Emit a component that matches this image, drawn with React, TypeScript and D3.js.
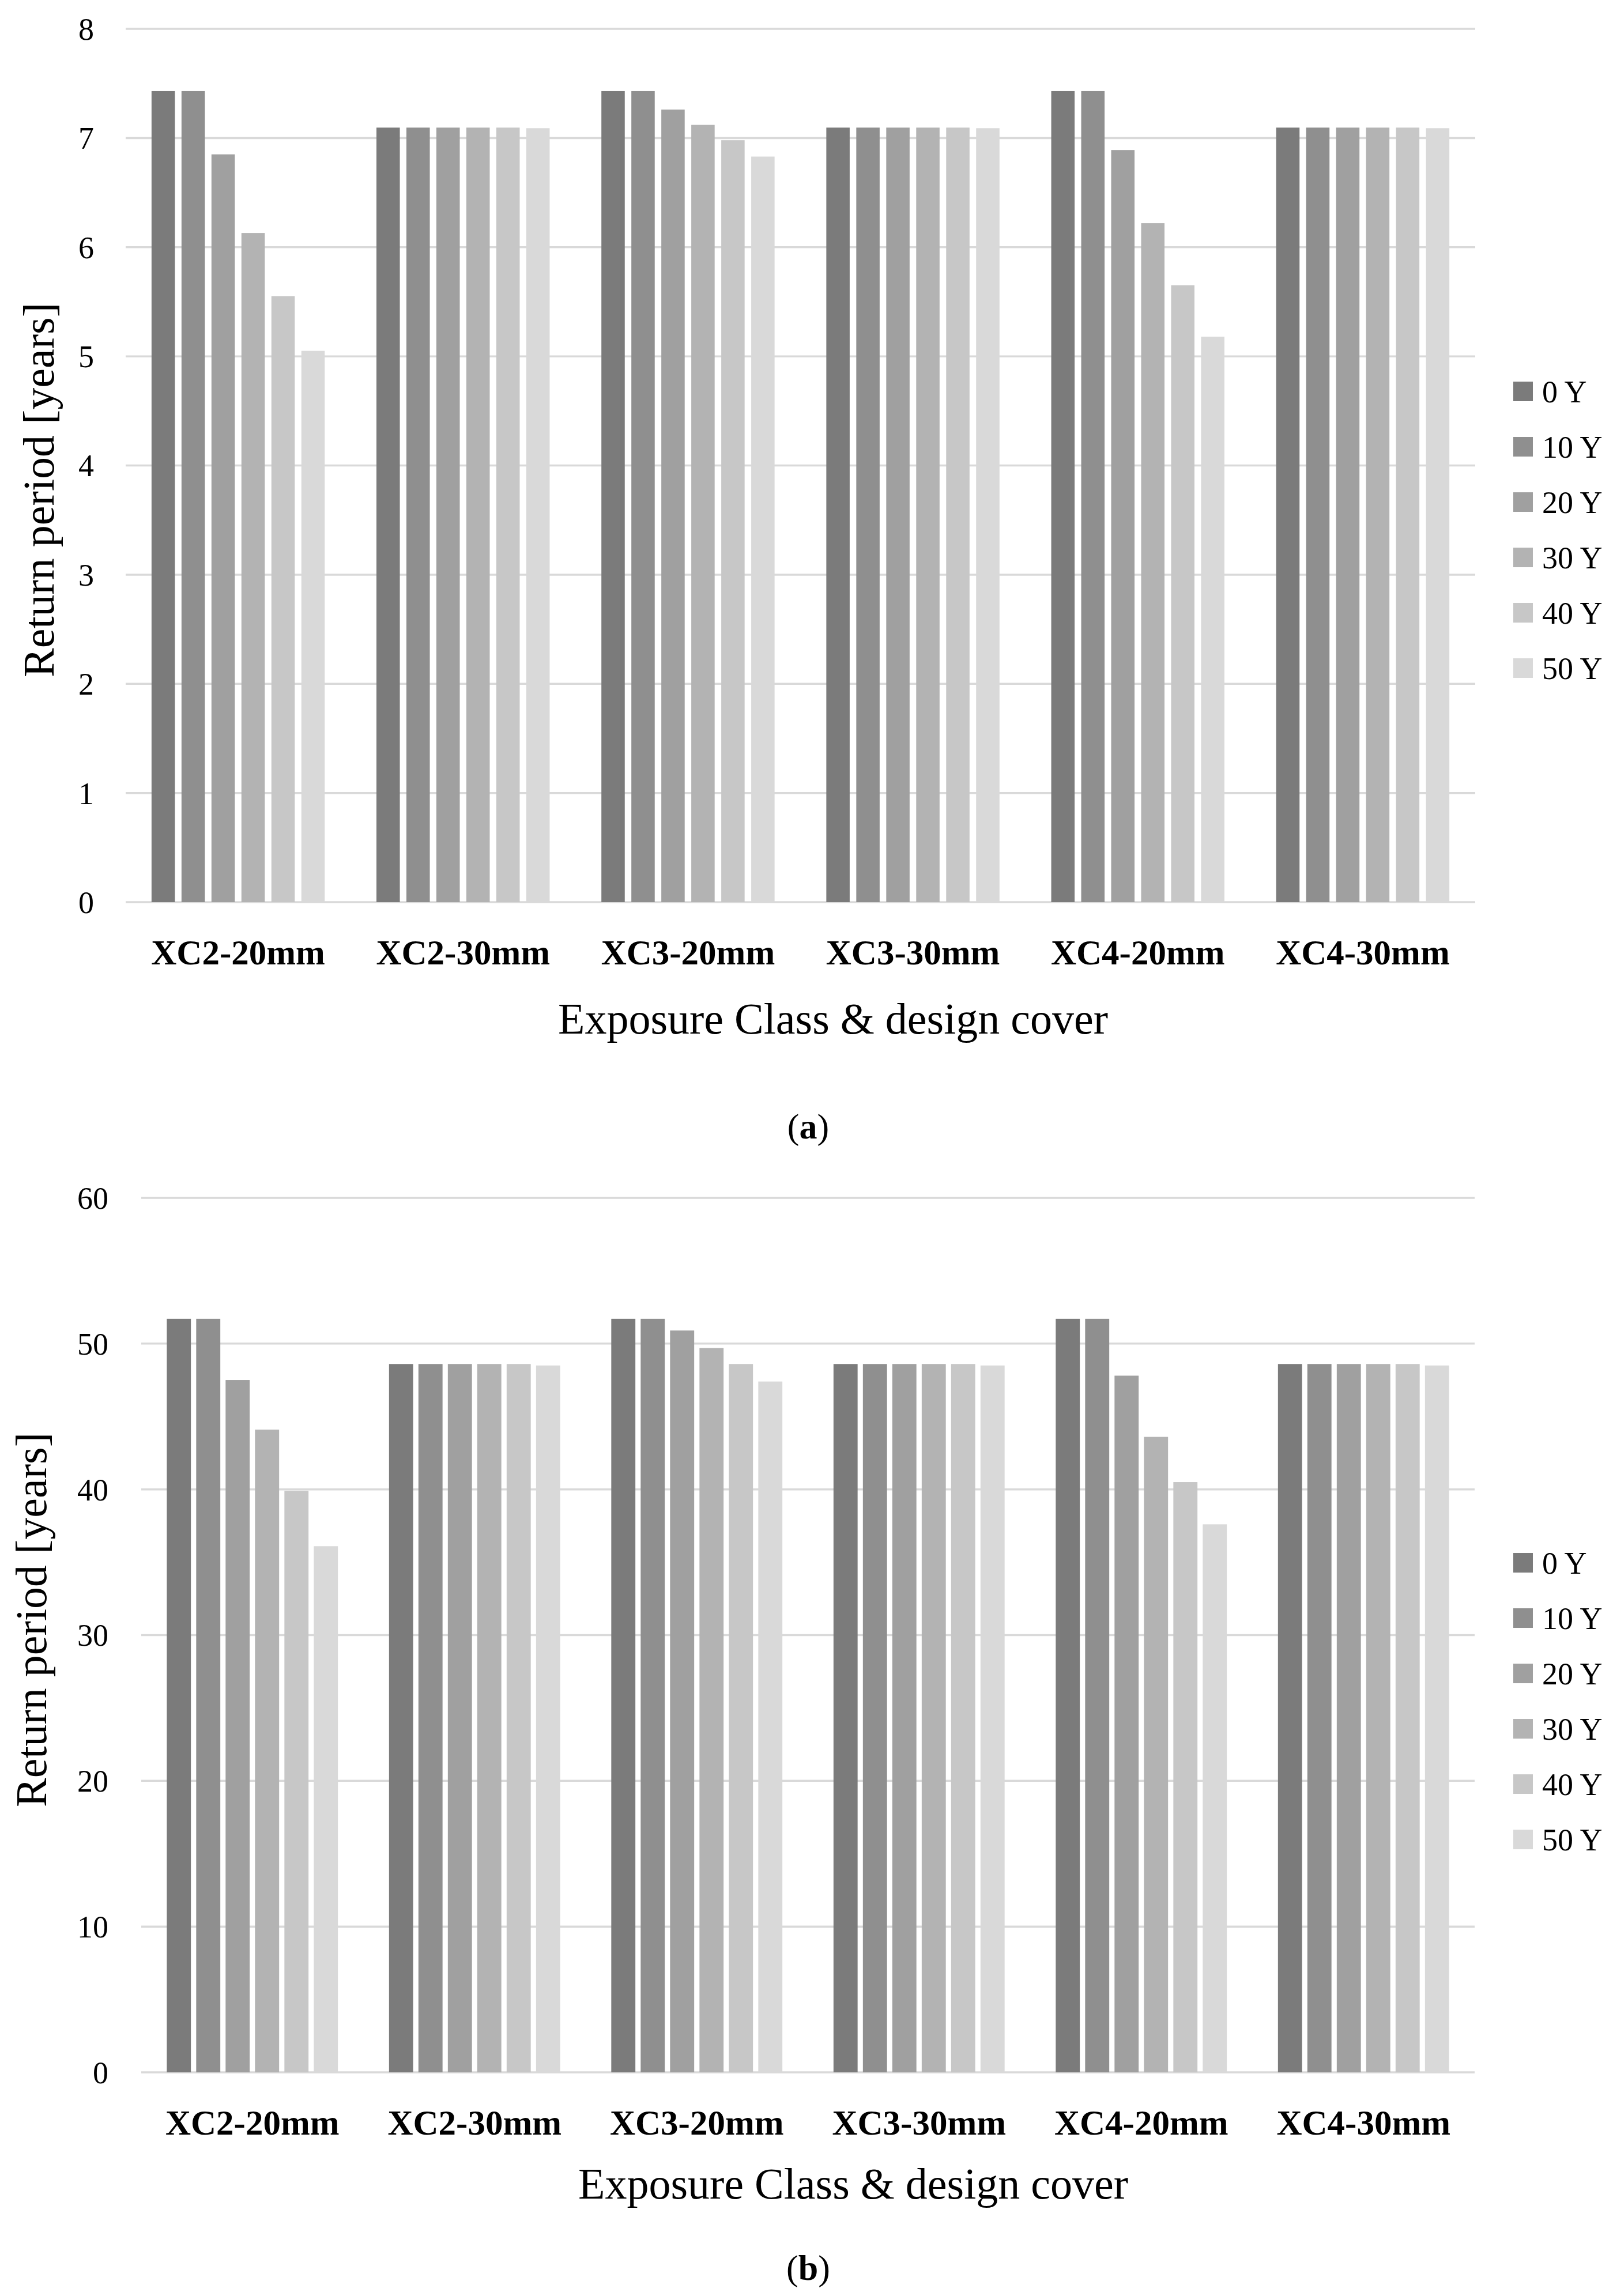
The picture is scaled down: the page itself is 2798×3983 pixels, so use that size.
import * as d3 from "d3";

const categories = ["XC2-20mm", "XC2-30mm", "XC3-20mm", "XC3-30mm", "XC4-20mm", "XC4-30mm"];
const seriesNames = ["0 Y", "10 Y", "20 Y", "30 Y", "40 Y", "50 Y"];
const seriesColors = ["#7b7b7b", "#8f8f8f", "#a0a0a0", "#b3b3b3", "#c7c7c7", "#d9d9d9"];

// panel (a): one row per category, one value per series
const valuesA = [
  [7.43, 7.43, 6.85, 6.13, 5.55, 5.05],
  [7.095, 7.095, 7.095, 7.095, 7.095, 7.09],
  [7.43, 7.43, 7.26, 7.12, 6.98, 6.83],
  [7.095, 7.095, 7.095, 7.095, 7.095, 7.09],
  [7.43, 7.43, 6.89, 6.22, 5.65, 5.18],
  [7.095, 7.095, 7.095, 7.095, 7.095, 7.09],
];
const ticksA = [0, 1, 2, 3, 4, 5, 6, 7, 8];

// panel (b)
const valuesB = [
  [51.7, 51.7, 47.5, 44.1, 39.9, 36.1],
  [48.6, 48.6, 48.6, 48.6, 48.6, 48.5],
  [51.7, 51.7, 50.9, 49.7, 48.6, 47.4],
  [48.6, 48.6, 48.6, 48.6, 48.6, 48.5],
  [51.7, 51.7, 47.8, 43.6, 40.5, 37.6],
  [48.6, 48.6, 48.6, 48.6, 48.6, 48.5],
];
const ticksB = [0, 10, 20, 30, 40, 50, 60];

const FONT = "'Palatino Linotype', 'Book Antiqua', Palatino, 'Liberation Serif', serif";

type PanelProps = {
  values: number[][];
  ticks: number[];
  left: number;
  right: number;
  top: number;
  bottom: number;
  tickX: number;
  titleX: number;
  titleY: number;
  xTitleX: number;
  xTitleOffset: number;
  innerPad: number;
  legendTop: number;
  label: string;
  labelY: number;
};

function Panel(p: PanelProps) {
  const x0 = d3.scaleBand().domain(categories).range([p.left, p.right]).paddingInner(0.23).paddingOuter(0.115);
  const x1 = d3.scaleBand().domain(seriesNames).range([0, x0.bandwidth()]).paddingInner(p.innerPad);
  const y = d3
    .scaleLinear()
    .domain([p.ticks[0], p.ticks[p.ticks.length - 1]])
    .range([p.bottom, p.top]);
  const legendY = d3.scalePoint().domain(seriesNames).range([p.legendTop, p.legendTop + 5 * 96]);

  return (
    <g>
      {p.ticks.map((t) => (
        <g key={t}>
          <line x1={p.left} x2={p.right} y1={y(t)} y2={y(t)} stroke="#d9d9d9" strokeWidth={3.5} />
          <text x={p.tickX} y={y(t)} dy="0.35em" textAnchor="end" fontSize={54}>
            {t}
          </text>
        </g>
      ))}
      {categories.map((c, ci) => (
        <g key={c} transform={`translate(${x0(c)},0)`}>
          {seriesNames.map((s, si) => (
            <rect
              key={s}
              x={x1(s)}
              width={x1.bandwidth()}
              y={y(p.values[ci][si])}
              height={y(0) - y(p.values[ci][si])}
              fill={seriesColors[si]}
            />
          ))}
          <text x={x0.bandwidth() / 2} y={p.bottom + 108} textAnchor="middle" fontSize={61} fontWeight="bold">
            {c}
          </text>
        </g>
      ))}
      {/* rotated axis title, translate point is the text baseline */}
      <text transform={`translate(${p.titleX},${p.titleY}) rotate(-90)`} textAnchor="middle" fontSize={76}>
        Return period [years]
      </text>
      <text x={p.xTitleX} y={p.bottom + p.xTitleOffset} textAnchor="middle" fontSize={76}>
        Exposure Class &amp; design cover
      </text>
      {seriesNames.map((s, si) => (
        <g key={s}>
          <rect x={2625} y={(legendY(s) as number) - 17} width={34} height={34} fill={seriesColors[si]} />
          <text x={2675} y={legendY(s)} dy="0.35em" fontSize={54}>
            {s}
          </text>
        </g>
      ))}
      <text x={1402} y={p.labelY} textAnchor="middle" fontSize={62}>
        (<tspan fontWeight="bold">{p.label}</tspan>)
      </text>
    </g>
  );
}

export default function App() {
  return (
    <div style={{ position: "absolute", left: 0, top: 0, background: "#fff" }}>
      <svg width={2798} height={3983} fontFamily={FONT} style={{ display: "block" }}>
        <rect width={2798} height={3983} fill="#fff" />
        <Panel
          values={valuesA}
          ticks={ticksA}
          left={218}
          right={2559}
          top={50}
          bottom={1565}
          tickX={163}
          titleX={93}
          titleY={850}
          xTitleX={1445}
          xTitleOffset={228}
          innerPad={0.22}
          legendTop={679}
          label="a"
          labelY={1975}
        />
        <Panel
          values={valuesB}
          ticks={ticksB}
          left={245}
          right={2558}
          top={2078}
          bottom={3595}
          tickX={188}
          titleX={80}
          titleY={2810}
          xTitleX={1480}
          xTitleOffset={219}
          innerPad={0.18}
          legendTop={2711}
          label="b"
          labelY={3955}
        />
      </svg>
    </div>
  );
}
